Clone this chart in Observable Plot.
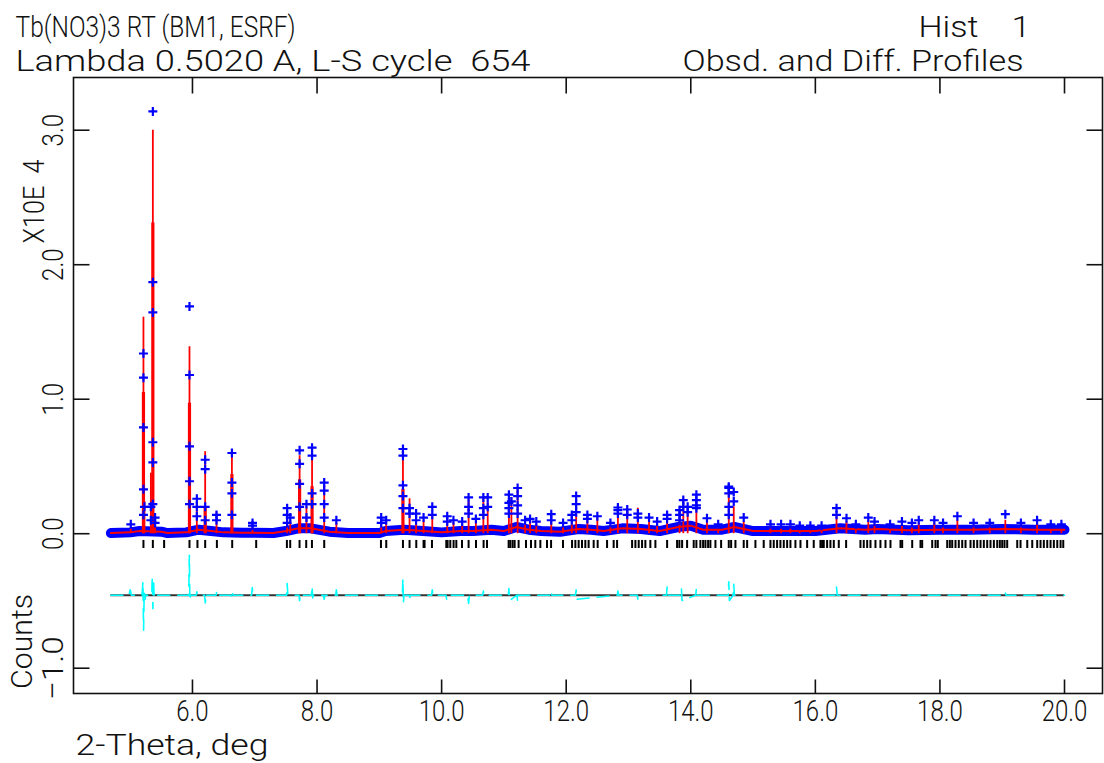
<!DOCTYPE html>
<html>
<head>
<meta charset="utf-8">
<script src="https://cdn.jsdelivr.net/npm/d3@7"></script>
<script src="https://cdn.jsdelivr.net/npm/@observablehq/plot@0.6"></script>
<style>
  html, body { margin: 0; padding: 0; background: #fff; }
  svg text { white-space: pre; }
</style>
</head>
<body>
<div id="chart"></div>
<script>
// Rietveld refinement plot: Tb(NO3)3, BM1 (ESRF), lambda 0.5020 A
// Intensities are in units of 10^4 counts.

const xTicks = [6, 8, 10, 12, 14, 16, 18, 20];
const yTicks = [-1, 0, 1, 2, 3];

// observed background band (2-theta, level)
const bgTheta = [4.69, 5.0, 5.15, 5.5, 5.6, 5.9, 6.1, 6.3, 6.5, 6.8, 7.3, 7.5, 7.7, 7.9, 8.2, 8.5, 9.0, 9.1, 9.4, 9.7, 10.0, 10.3, 10.5, 10.8, 11.0, 11.2, 11.4, 11.6, 11.9, 12.2, 12.4, 12.6, 12.9, 13.2, 13.5, 13.8, 14.0, 14.2, 14.5, 14.7, 15.0, 15.5, 16.0, 16.4, 16.8, 17.0, 17.5, 18.0, 18.5, 19.0, 19.5, 20.0];
const bgLevel = [0.005, 0.01, 0.02, 0.015, 0.005, 0.01, 0.03, 0.02, 0.01, 0.008, 0.005, 0.02, 0.04, 0.04, 0.015, 0.005, 0.005, 0.02, 0.03, 0.02, 0.01, 0.02, 0.02, 0.03, 0.02, 0.05, 0.03, 0.02, 0.015, 0.035, 0.03, 0.02, 0.04, 0.035, 0.02, 0.05, 0.06, 0.03, 0.03, 0.05, 0.02, 0.02, 0.02, 0.04, 0.03, 0.035, 0.025, 0.03, 0.03, 0.035, 0.03, 0.03];

// Bragg peaks: position, calculated maximum, observed points on the peak
const peakTheta = [5.01, 5.213, 5.229, 5.332, 5.364, 5.40, 5.952, 6.07, 6.204, 6.386, 6.633, 6.964, 7.52, 7.57, 7.72, 7.83, 7.92, 8.115, 8.31, 9.03, 9.11, 9.379, 9.485, 9.59, 9.71, 9.85, 10.09, 10.19, 10.33, 10.433, 10.55, 10.67, 10.74, 11.08, 11.12, 11.22, 11.34, 11.42, 11.52, 11.76, 11.95, 12.09, 12.16, 12.34, 12.50, 12.71, 12.83, 12.98, 13.15, 13.33, 13.46, 13.62, 13.82, 13.88, 13.95, 14.09, 14.26, 14.44, 14.61, 14.69, 14.85, 15.28, 15.45, 15.60, 15.75, 15.92, 16.10, 16.34, 16.50, 16.65, 16.85, 16.95, 17.20, 17.39, 17.55, 17.66, 17.91, 18.05, 18.28, 18.54, 18.80, 19.05, 19.30, 19.56, 19.78, 19.95];
const peakCalc = [0.04, 1.61, 0.24, 0.45, 3.0, 0.14, 1.39, 0.24, 0.61, 0.16, 0.62, 0.05, 0.15, 0.10, 0.58, 0.20, 0.57, 0.36, 0.08, 0.08, 0.09, 0.58, 0.26, 0.14, 0.10, 0.14, 0.12, 0.08, 0.08, 0.25, 0.10, 0.26, 0.23, 0.23, 0.27, 0.34, 0.08, 0.09, 0.07, 0.14, 0.06, 0.10, 0.25, 0.12, 0.13, 0.06, 0.175, 0.19, 0.19, 0.12, 0.06, 0.12, 0.175, 0.26, 0.16, 0.25, 0.10, 0.06, 0.29, 0.20, 0.09, 0.05, 0.05, 0.05, 0.04, 0.04, 0.04, 0.13, 0.09, 0.05, 0.10, 0.07, 0.05, 0.08, 0.05, 0.08, 0.08, 0.06, 0.10, 0.06, 0.06, 0.10, 0.06, 0.07, 0.05, 0.05];
const peakObs = [
  [0.07], [1.34, 1.16, 0.79, 0.33, 0.14], [0.2], [0.2, 0.1], [3.14, 1.87, 1.645, 0.68, 0.53, 0.22], [0.12, 0.08],
  [1.69, 1.18, 0.65, 0.39, 0.22], [0.26, 0.2, 0.13], [0.55, 0.48, 0.2, 0.1], [0.14, 0.1], [0.6, 0.38, 0.3, 0.14], [0.08, 0.06],
  [0.19, 0.14, 0.08], [0.12], [0.62, 0.52, 0.37, 0.2], [0.22, 0.12], [0.64, 0.58, 0.3, 0.22], [0.38, 0.32, 0.22, 0.12], [0.1],
  [0.12, 0.08], [0.1], [0.63, 0.58, 0.36, 0.28, 0.19], [0.19, 0.15], [0.15, 0.1], [0.12], [0.2, 0.14], [0.13, 0.09], [0.1], [0.09],
  [0.27, 0.2, 0.15], [0.11], [0.27, 0.19, 0.14], [0.27, 0.2], [0.29, 0.23, 0.19, 0.15], [0.24], [0.34, 0.28, 0.21, 0.15],
  [0.1], [0.11], [0.09], [0.145, 0.1], [0.08], [0.14, 0.1], [0.28, 0.22, 0.16], [0.14, 0.11], [0.13], [0.08],
  [0.195, 0.175, 0.15], [0.18, 0.14], [0.15, 0.12], [0.12], [0.09], [0.14, 0.11], [0.175, 0.14, 0.1], [0.25, 0.2], [0.2, 0.16],
  [0.29, 0.25, 0.21, 0.19], [0.115], [0.07], [0.35, 0.34, 0.3, 0.2, 0.14], [0.31, 0.24], [0.12], [0.07], [0.07], [0.07], [0.06], [0.06], [0.06],
  [0.19, 0.14], [0.115], [0.07], [0.12], [0.09], [0.07], [0.09], [0.08], [0.1], [0.1], [0.08], [0.13], [0.08], [0.08], [0.145], [0.08], [0.1], [0.07], [0.07]
];
// dense lower part of the strongest calculated peaks
const coreTheta = [5.213, 5.364, 5.952, 6.204, 6.633, 7.72, 7.92, 9.379];
const coreLevel = [1.05, 2.31, 0.97, 0.2, 0.44, 0.4, 0.35, 0.33];

// reflection positions (tick marks)
const hklTheta = [5.213, 5.364, 5.545, 5.952, 6.080, 6.204, 6.392, 6.638, 7.023, 7.516, 7.569, 7.719, 7.826, 7.918, 8.115,
  9.026, 9.111, 9.379, 9.485, 9.593, 9.710, 9.726, 9.845, 10.075, 10.096, 10.139, 10.192, 10.236, 10.327, 10.433, 10.552, 10.674, 10.729,
  11.076, 11.103, 11.140, 11.172, 11.236, 11.355, 11.435, 11.504, 11.585, 11.692, 11.757, 11.949, 12.094, 12.147, 12.200, 12.254,
  12.307, 12.360, 12.441, 12.505, 12.656, 12.762, 12.817, 13.058, 13.111, 13.164, 13.218, 13.271, 13.351, 13.432, 13.620, 13.780,
  13.817, 13.861, 13.941, 14.047, 14.090, 14.154, 14.198, 14.235, 14.278, 14.315, 14.396, 14.487, 14.610, 14.648, 14.717, 14.850,
  14.905, 15.038, 15.171, 15.279, 15.332, 15.386, 15.439, 15.493, 15.547, 15.600, 15.680, 15.761, 15.868, 15.974, 16.082, 16.109,
  16.135, 16.189, 16.242, 16.296, 16.376, 16.494, 16.724, 16.777, 16.832, 16.885, 16.965, 17.045, 17.126, 17.206, 17.367, 17.394,
  17.555, 17.688, 17.715, 17.876, 17.929, 17.966, 18.117, 18.159, 18.197, 18.250, 18.303, 18.358, 18.411, 18.491, 18.544, 18.599,
  18.652, 18.705, 18.759, 18.812, 18.866, 18.920, 18.962, 19.000, 19.037, 19.080, 19.241, 19.294, 19.402, 19.482, 19.562, 19.615,
  19.668, 19.723, 19.776, 19.829, 19.884, 19.937, 19.980];

// difference curve (obs - calc), drawn about its own zero line
const diffZero = -0.457;
const diffTheta = [4.69, 4.98, 5.0, 5.02, 5.19, 5.205, 5.215, 5.225, 5.24, 5.25, 5.345, 5.355, 5.365, 5.375, 5.385, 5.40,
  5.94, 5.95, 5.958, 5.97, 6.06, 6.07, 6.08, 6.195, 6.205, 6.215, 6.22, 6.38, 6.39, 6.40, 6.62, 6.635, 6.645, 6.65,
  6.95, 6.96, 6.97, 7.51, 7.52, 7.53, 7.55, 7.71, 7.72, 7.73, 7.74, 7.91, 7.92, 7.93, 7.94, 8.10, 8.115, 8.125, 8.30, 8.31, 8.32,
  9.37, 9.378, 9.386, 9.395, 9.475, 9.485, 9.495, 9.84, 9.85, 9.86, 10.07, 10.08, 10.09, 10.42, 10.433, 10.445, 10.66, 10.67, 10.68,
  11.07, 11.08, 11.09, 11.21, 11.22, 11.23, 11.75, 11.76, 11.77, 12.15, 12.16, 12.17, 12.82, 12.83, 12.84, 13.14, 13.15, 13.16,
  13.61, 13.62, 13.63, 13.84, 13.85, 13.86, 14.08, 14.09, 14.10, 14.60, 14.61, 14.62, 14.68, 14.69, 14.70, 16.33, 16.34, 16.35,
  19.04, 19.05, 19.06, 20.0];
const diffValue = [0, 0, 0.04, 0, 0, 0.1, -0.26, 0.02, -0.03, 0, 0, 0.136, -0.1, 0.12, -0.02, 0,
  0, 0.297, -0.04, 0, 0, 0.025, 0, 0, -0.057, 0.01, 0, 0, 0.03, 0, 0, -0.03, 0.01, 0,
  0, 0.057, 0, 0, 0.087, 0.01, 0, 0, -0.04, 0.01, 0, 0, 0.067, -0.02, 0, 0, -0.03, 0, 0, 0.04, 0,
  0, 0.124, -0.06, 0, 0, -0.04, 0, 0, 0.04, 0, 0, -0.03, 0, 0, -0.062, 0, 0, 0.03, 0,
  0, 0.05, -0.04, 0, -0.05, 0, 0, 0.03, 0, 0, 0.04, -0.03, 0, 0.03, 0, 0, -0.03, 0,
  0, 0.06, 0, 0, 0.05, -0.04, 0, 0.05, 0, 0, 0.1, -0.04, 0, 0.08, 0, 0, 0.06, 0,
  0, 0.02, 0, 0];

const fmt = d3.format(".1f");
const FONT = "Roboto, 'Liberation Sans', sans-serif";
const BLUE = "#0000ff", RED = "#ff0000", CYAN = "#00ffff", INK = "#111";

const bg = bgTheta.map((t, i) => ({t, v: bgLevel[i]}));
const peaks = peakTheta.map((t, i) => ({t, v: peakCalc[i]}));
const cores = coreTheta.map((t, i) => ({t, v: coreLevel[i]}));
const obs = peakTheta.flatMap((t, i) => peakObs[i].map(v => ({t, v})));
const diff = diffTheta.map((t, i) => ({t, v: diffZero + diffValue[i]}));

// short inward tick strokes, given as symbols so their length is in pixels
const tickSymbol = (dx, dy) => ({draw(ctx) { ctx.moveTo(0, 0); ctx.lineTo(dx, dy); }});
const tickStyle = {fill: "none", stroke: INK, strokeWidth: 1.6};

// plotter lettering is tall and narrow; target lengths of the labels in pixels
const labelLength = new Map([
  ["Tb(NO3)3 RT (BM1, ESRF)", 280],
  ["Lambda 0.5020 A, L-S cycle  654", 515],
  ["Hist    1", 112],
  ["Obsd. and Diff. Profiles", 341],
  ["2-Theta, deg", 193],
  ["X10E  4", 84],
  ["Counts", 95],
  ["\u22121.0", 64]
]);
const numberSqueeze = 0.8;

const text = (s, o) => Plot.text([s], {fontSize: 30, fill: INK, lineAnchor: "middle", ...o});

const svg = Plot.plot({
  width: 1104,
  height: 763,
  marginLeft: 73,
  marginRight: 2,
  marginTop: 77,
  marginBottom: 70,
  style: {fontFamily: FONT, color: INK, background: "#fff"},
  x: {domain: [4.09, 20.61], axis: null},
  y: {domain: [-1.188, 3.392], axis: null},
  marks: [
    // reflection markers
    Plot.ruleX(hklTheta, {x: d => d, y1: -0.05, y2: -0.11, stroke: "#000", strokeWidth: 2}),
    // difference curve and its zero line
    Plot.ruleY([diffZero], {x1: bgTheta[0], x2: bgTheta[bgTheta.length - 1], stroke: "#333", strokeWidth: 2}),
    Plot.line(diff, {x: "t", y: "v", stroke: CYAN, strokeWidth: 1.6, strokeDasharray: "12,8"}),
    // observed background band
    Plot.line(bg, {x: "t", y: "v", stroke: BLUE, strokeWidth: 10, strokeLinejoin: "round", strokeLinecap: "round"}),
    // calculated profile
    Plot.line(bg, {x: "t", y: "v", stroke: RED, strokeWidth: 2}),
    Plot.ruleX(cores, {x: "t", y1: 0, y2: "v", stroke: RED, strokeWidth: 3.2}),
    Plot.ruleX(peaks, {x: "t", y1: 0, y2: "v", stroke: RED, strokeWidth: 1.8}),
    // observed points
    Plot.dot(obs, {x: "t", y: "v", symbol: "plus", r: 3, stroke: BLUE, strokeWidth: 2.2}),
    // frame and inward ticks
    Plot.frame({stroke: INK, strokeWidth: 1.6}),
    Plot.dot(xTicks, {x: d => d, frameAnchor: "bottom", symbol: tickSymbol(0, -14), ...tickStyle}),
    Plot.dot(xTicks, {x: d => d, frameAnchor: "top", symbol: tickSymbol(0, 16), ...tickStyle}),
    Plot.dot(yTicks, {y: d => d, frameAnchor: "left", symbol: tickSymbol(16, 0), ...tickStyle}),
    Plot.dot(yTicks, {y: d => d, frameAnchor: "right", symbol: tickSymbol(-16, 0), ...tickStyle}),
    // tick labels
    Plot.text(xTicks, {x: d => d, text: d => fmt(d), frameAnchor: "bottom", dy: 18, lineAnchor: "middle", fontSize: 30, fill: INK}),
    Plot.text(yTicks, {y: d => d, text: d => fmt(d), frameAnchor: "left", dx: -20, rotate: -90, textAnchor: "middle", lineAnchor: "middle", fontSize: 30, fill: INK}),
    // axis titles
    text("2-Theta, deg", {frameAnchor: "bottom-left", dx: 2, dy: 52, textAnchor: "start"}),
    text("X10E  4", {frameAnchor: "top-left", dx: -39, dy: 124, rotate: -90, textAnchor: "middle"}),
    text("Counts", {frameAnchor: "bottom-left", dx: -51, dy: -52, rotate: -90, textAnchor: "middle"}),
    // headings
    text("Tb(NO3)3 RT (BM1, ESRF)", {frameAnchor: "top-left", dx: -58, dy: -50, textAnchor: "start"}),
    text("Lambda 0.5020 A, L-S cycle  654", {frameAnchor: "top-left", dx: -58, dy: -16, textAnchor: "start"}),
    text("Hist    1", {frameAnchor: "top-right", dx: -72, dy: -50, textAnchor: "end"}),
    text("Obsd. and Diff. Profiles", {frameAnchor: "top-right", dx: -79, dy: -16, textAnchor: "end"})
  ]
});

document.getElementById("chart").appendChild(svg);

// fit each label to its length with narrowed glyphs
svg.querySelectorAll("text").forEach(el => {
  el.setAttribute("font-weight", "300");
  const s = el.textContent;
  if (!s) return;
  let w = labelLength.get(s);
  if (w == null) w = el.getComputedTextLength() * numberSqueeze;
  el.setAttribute("textLength", w);
  el.setAttribute("lengthAdjust", "spacingAndGlyphs");
});
</script>
</body>
</html>
